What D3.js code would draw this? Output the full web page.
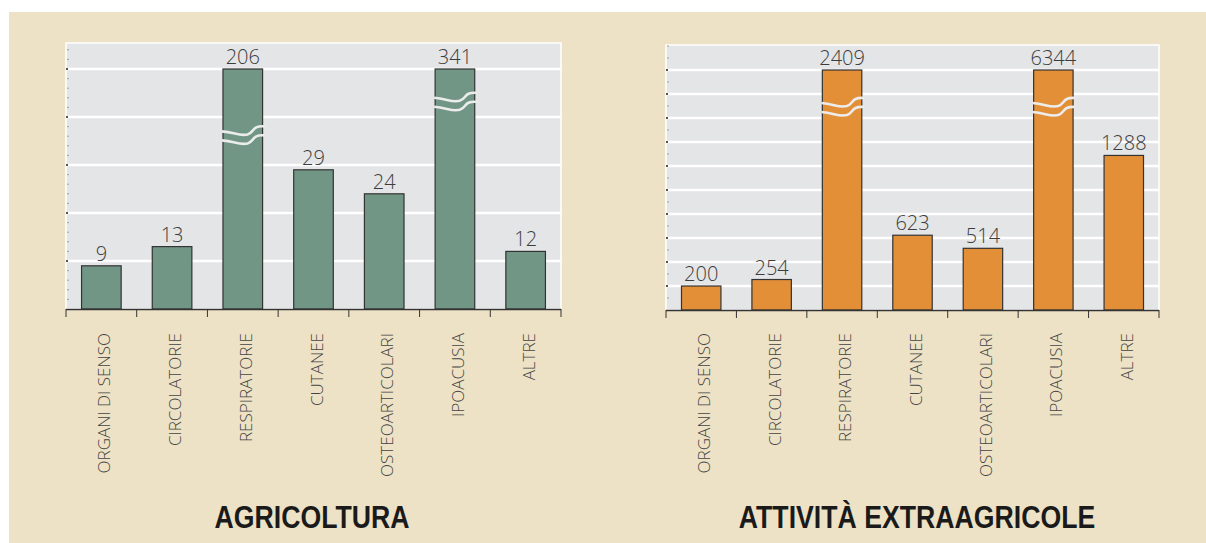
<!DOCTYPE html>
<html>
<head>
<meta charset="utf-8">
<script src="https://cdn.jsdelivr.net/npm/d3@7"></script>
<style>
  body { margin: 0; background: #fff; }
  svg { display: block; }
  .val { font-family: "Open Sans", "DejaVu Sans", sans-serif; font-weight: 300; font-size: 20px; fill: #3c3c3c; }
  .cat { font-family: "Open Sans", "DejaVu Sans", sans-serif; font-weight: 300; font-size: 17px; fill: #444; }
  .ttl { font-family: "Liberation Sans", Arial, sans-serif; font-weight: bold; font-size: 31px; fill: #1a1a1a; }
</style>
</head>
<body>
<div id="container"></div>
<script>
// the data
var categories = ["ORGANI DI SENSO", "CIRCOLATORIE", "RESPIRATORIE", "CUTANEE", "OSTEOARTICOLARI", "IPOACUSIA", "ALTRE"];
var agriValues = [9, 13, 206, 29, 24, 341, 12];
var extraValues = [200, 254, 2409, 623, 514, 6344, 1288];
// bars above the cap are drawn cut, with a wavy break at these values
var agriCap = 50, agriBreaks = [null, null, 37, null, null, 44, null];
var extraCap = 2000, extraBreaks = [null, null, 1725, null, null, 1725, null];
var agriGrid = [10, 20, 30, 40, 50];
var extraGrid = [200, 400, 600, 800, 1000, 1200, 1400, 1600, 1800, 2000];

var W = 1206, H = 543;

var svg = d3.select("#container").append("svg")
  .attr("width", W).attr("height", H);

// beige card
svg.append("rect").attr("x", 9).attr("y", 12)
  .attr("width", W - 9).attr("height", H - 12).attr("fill", "#EDE2C5");

function panel(o) {
  var x = d3.scaleBand().domain(categories).range([o.x0, o.x1]).paddingInner(0.44).paddingOuter(0.22);
  var y = d3.scaleLinear().domain([0, o.max]).range([o.y1, o.y0]);
  var g = svg.append("g");

  // plot area
  g.append("rect").attr("x", o.x0).attr("y", o.y0)
    .attr("width", o.x1 - o.x0).attr("height", o.y1 - o.y0)
    .attr("fill", "#E4E5E7").attr("stroke", "#fff").attr("stroke-width", 1.5);

  // minor ticks along the left edge
  g.selectAll(".minor").data(d3.range(o.minor, o.max, o.minor)).enter().append("line")
    .attr("x1", o.x0 + 1).attr("x2", o.x0 + 3)
    .attr("y1", function(d){ return y(d); }).attr("y2", function(d){ return y(d); })
    .attr("stroke", "#a0a0a0").attr("stroke-width", 1);

  // white gridlines
  g.selectAll(".grid").data(o.grid).enter().append("line")
    .attr("x1", o.x0).attr("x2", o.x1)
    .attr("y1", function(d){ return y(d); }).attr("y2", function(d){ return y(d); })
    .attr("stroke", "#fff").attr("stroke-width", 2.5);
  g.selectAll(".gtick").data(o.grid).enter().append("line")
    .attr("x1", o.x0).attr("x2", o.x0 + 2)
    .attr("y1", function(d){ return y(d); }).attr("y2", function(d){ return y(d); })
    .attr("stroke", "#555").attr("stroke-width", 2);

  // bars (capped)
  g.selectAll(".bar").data(o.values).enter().append("rect")
    .attr("x", function(d, i){ return x(categories[i]); })
    .attr("width", x.bandwidth())
    .attr("y", function(d){ return y(Math.min(d, o.cap)); })
    .attr("height", function(d){ return o.y1 - y(Math.min(d, o.cap)); })
    .attr("fill", o.color).attr("stroke", "#333").attr("stroke-width", 1.2);

  // break marks
  o.breaks.forEach(function(b, i){
    if (b === null) return;
    var bx = x(categories[i]), w = x.bandwidth();
    [0, 9].forEach(function(off){
      var yy = y(b) + off;
      var d = "M" + (bx - 1) + "," + yy +
        " C" + (bx + w * 0.3) + "," + (yy + 1) + " " + (bx + w * 0.42) + "," + (yy + 5) + " " + (bx + w * 0.62) + "," + (yy + 3) +
        " C" + (bx + w * 0.8) + "," + (yy + 1) + " " + (bx + w * 0.72) + "," + (yy - 6) + " " + (bx + w + 2) + "," + (yy - 5);
      g.append("path").attr("d", d).attr("fill", "none")
        .attr("stroke", "#ECECEC").attr("stroke-width", 2.6);
    });
  });

  // value labels
  g.selectAll(".val").data(o.values).enter().append("text")
    .attr("class", "val")
    .attr("x", function(d, i){ return x(categories[i]) + x.bandwidth() / 2; })
    .attr("y", function(d){ return y(Math.min(d, o.cap)) - 5; })
    .attr("text-anchor", "middle")
    .text(function(d){ return d; });

  // x axis with ticks between categories
  var bounds = d3.range(categories.length + 1).map(function(i){
    return o.x0 + i * (o.x1 - o.x0) / categories.length;
  });
  g.append("line").attr("x1", o.x0).attr("x2", o.x1)
    .attr("y1", o.y1 + 0.5).attr("y2", o.y1 + 0.5)
    .attr("stroke", "#333").attr("stroke-width", 1.3);
  g.selectAll(".xt").data(bounds).enter().append("line")
    .attr("x1", function(d){ return d; }).attr("x2", function(d){ return d; })
    .attr("y1", o.y1).attr("y2", o.y1 + 8)
    .attr("stroke", "#333").attr("stroke-width", 1);

  // category labels, rotated
  g.selectAll(".cat").data(categories).enter().append("text")
    .attr("class", "cat")
    .attr("transform", function(d){
      return "translate(" + (x(d) + x.bandwidth() / 2 + 9) + "," + 333 + ") rotate(-90)";
    })
    .attr("text-anchor", "end")
    .text(function(d){ return d; });

  // title
  g.append("text").attr("class", "ttl")
    .attr("transform", "translate(" + o.tx + ",528) scale(0.86,1)")
    .attr("text-anchor", "middle")
    .text(o.title);
}

panel({ x0: 66, x1: 561, y0: 43, y1: 309, max: 266 / 4.8, values: agriValues, cap: agriCap,
  breaks: agriBreaks, grid: agriGrid, minor: 2, color: "#729685", title: "AGRICOLTURA", tx: 312 });
panel({ x0: 666, x1: 1159, y0: 45, y1: 310, max: 265 / 0.12, values: extraValues, cap: extraCap,
  breaks: extraBreaks, grid: extraGrid, minor: 100, color: "#E38F38", title: "ATTIVITÀ EXTRAAGRICOLE", tx: 917 });
</script>
</body>
</html>
